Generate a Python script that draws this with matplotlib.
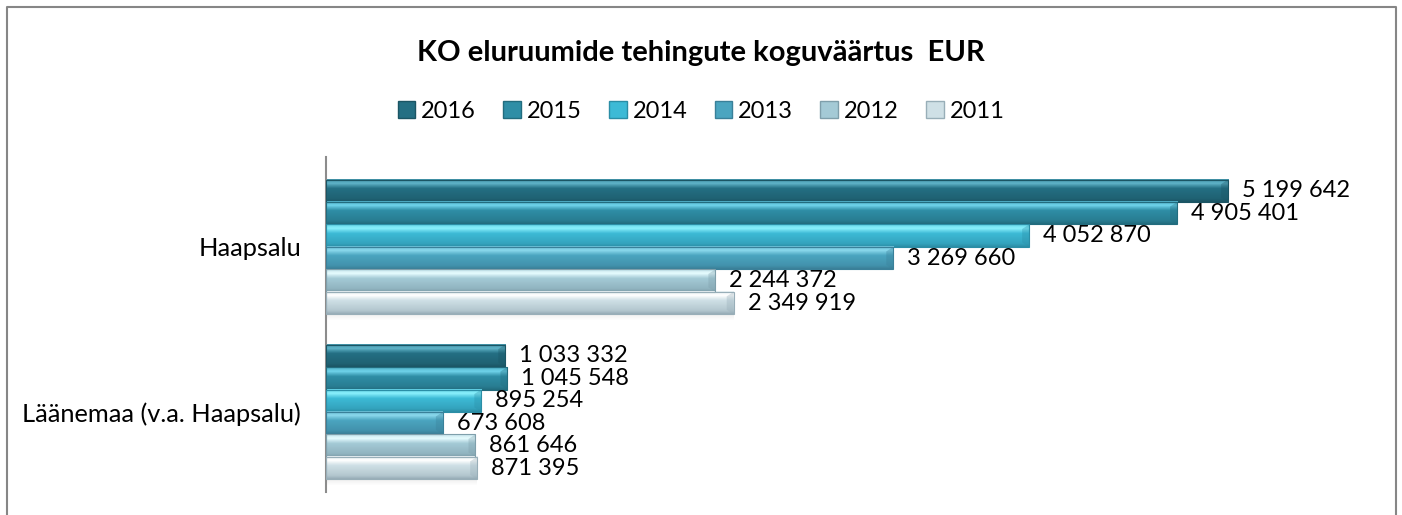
import numpy as np
import matplotlib
matplotlib.use("Agg")
import matplotlib.pyplot as plt
from matplotlib.colors import to_rgb
from matplotlib.patches import Patch, Rectangle

plt.rcParams['font.family'] = ['Lato', 'DejaVu Sans']

# andmed
categories = ['Haapsalu', 'Läänemaa (v.a. Haapsalu)']
years = ['2016', '2015', '2014', '2013', '2012', '2011']
values = {
    '2016': [5199642, 1033332],
    '2015': [4905401, 1045548],
    '2014': [4052870, 895254],
    '2013': [3269660, 673608],
    '2012': [2244372, 861646],
    '2011': [2349919, 871395],
}
# (hele, põhi, tume) iga aasta jaoks
colors = {
    '2016': ('#5fb3c8', '#246f83', '#1b5564'),
    '2015': ('#6fd3ea', '#2f8ea6', '#226c7e'),
    '2014': ('#8af0fc', '#3dbad6', '#2b8ea6'),
    '2013': ('#8ad8ec', '#4ba5c0', '#3a8099'),
    '2012': ('#e6fcff', '#a4cad6', '#7f9fab'),
    '2011': ('#ffffff', '#cfe0e6', '#98aeb8'),
}

def fmt(v):
    return '{:,}'.format(v).replace(',', ' ')

def grad(c):
    light, mid, dark = [np.array(to_rgb(x)) for x in c]
    stops = [(0.0, (light + mid) / 2), (0.18, light), (0.4, mid),
             (0.85, (mid + dark) / 2), (1.0, dark)]
    t = np.linspace(0, 1, 40)
    img = np.zeros((40, 1, 3))
    for k in range(3):
        img[:, 0, k] = np.interp(t, [s[0] for s in stops], [s[1][k] for s in stops])
    return img

fig = plt.figure(figsize=(14.02, 5.15), dpi=100)
ax = fig.add_axes([326 / 1402, 23 / 515, 1041 / 1402, 335 / 515])

n = len(years)
bar_h = 0.136
xmax = 6000000
px = xmax / 1041.0

for i, yr in enumerate(years):
    for j, v in enumerate(values[yr]):
        yc = j + (i - (n - 1) / 2) * bar_h
        y0, y1 = yc - bar_h / 2, yc + bar_h / 2
        # ylim on pööratud -> y0 on üleval
        ax.imshow(grad(colors[yr]), extent=[0, v, y1, y0], aspect='auto',
                  interpolation='bilinear', zorder=2)
        ax.add_patch(Rectangle((0, y0), v, bar_h, fill=False,
                               edgecolor=colors[yr][2], linewidth=0.8, zorder=3))
        # kaldserv paremas otsas
        ax.fill([v - 7 * px, v, v, v - 7 * px],
                [y0 + bar_h * 0.2, y0, y1, y1 - bar_h * 0.2],
                color=colors[yr][2], alpha=0.35, zorder=3, linewidth=0)
        ax.annotate(fmt(v), (v, yc), xytext=(14, 0), textcoords='offset pixels',
                    ha='left', va='center', fontsize=17, color='black', zorder=4)

# vari viimase tulba all
for j in range(len(categories)):
    yb = j + (n / 2) * bar_h
    v = values[years[-1]][j]
    for k in range(6):
        ax.add_patch(Rectangle((0, yb + k * 0.006), v, 0.006, color='black',
                               alpha=0.06 * (1 - k / 6), linewidth=0, zorder=1))

ax.set_xlim(0, xmax)
ax.set_ylim(1.485, -0.545)
ax.set_yticks(range(len(categories)))
ax.set_yticklabels(categories, fontsize=18.3)
ax.tick_params(axis='y', length=0, pad=18)
ax.set_xticks([])
for s in ['top', 'right', 'bottom']:
    ax.spines[s].set_visible(False)
ax.spines['left'].set_color('#8c8c8c')
ax.spines['left'].set_linewidth(1.5)

fig.text(0.5, 1 - 53 / 515, 'KO eluruumide tehingute koguväärtus  EUR',
         ha='center', va='center', fontsize=21, fontweight='bold')

handles = [Patch(facecolor=colors[yr][1], edgecolor=colors[yr][2], label=yr) for yr in years]
fig.legend(handles=handles, loc='center', bbox_to_anchor=(0.5, 1 - 111 / 515), ncol=6,
           frameon=False, fontsize=17, handlelength=0.75, handleheight=0.75,
           handletextpad=0.25, columnspacing=1.15)

# välimine raam
fig.add_artist(plt.Line2D([7 / 1402, 7 / 1402, 1396 / 1402, 1396 / 1402],
                          [0, 1 - 7 / 515, 1 - 7 / 515, 0],
                          transform=fig.transFigure, color='#868686', linewidth=1.5))

fig.savefig('out.png', dpi=100)
